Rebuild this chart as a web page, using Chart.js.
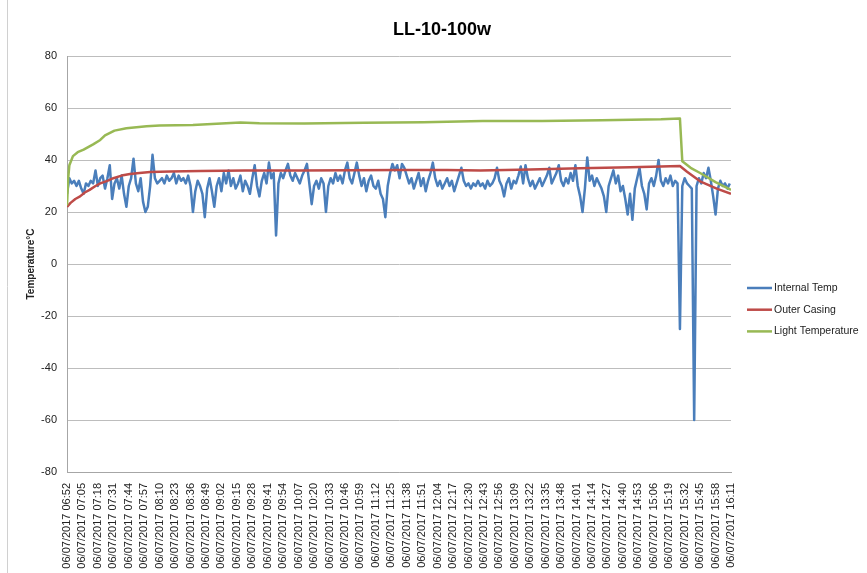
<!DOCTYPE html>
<html>
<head>
<meta charset="utf-8">
<script src="https://cdn.jsdelivr.net/npm/chart.js@4.4.1/dist/chart.umd.min.js"></script>
<style>
  html, body { margin: 0; padding: 0; background: #fff; }
  #wrap { position: relative; width: 867px; height: 573px; }
</style>
</head>
<body>
<div id="wrap"><canvas id="tempChart"></canvas></div>
<script>
const chartTitle = "LL-10-100w";
const yAxisTitle = "Temperature°C";

// one label every 13 minutes
const tickLabels = [
  "06/07/2017 06:52", "06/07/2017 07:05", "06/07/2017 07:18", "06/07/2017 07:31",
  "06/07/2017 07:44", "06/07/2017 07:57", "06/07/2017 08:10", "06/07/2017 08:23",
  "06/07/2017 08:36", "06/07/2017 08:49", "06/07/2017 09:02", "06/07/2017 09:15",
  "06/07/2017 09:28", "06/07/2017 09:41", "06/07/2017 09:54", "06/07/2017 10:07",
  "06/07/2017 10:20", "06/07/2017 10:33", "06/07/2017 10:46", "06/07/2017 10:59",
  "06/07/2017 11:12", "06/07/2017 11:25", "06/07/2017 11:38", "06/07/2017 11:51",
  "06/07/2017 12:04", "06/07/2017 12:17", "06/07/2017 12:30", "06/07/2017 12:43",
  "06/07/2017 12:56", "06/07/2017 13:09", "06/07/2017 13:22", "06/07/2017 13:35",
  "06/07/2017 13:48", "06/07/2017 14:01", "06/07/2017 14:14", "06/07/2017 14:27",
  "06/07/2017 14:40", "06/07/2017 14:53", "06/07/2017 15:06", "06/07/2017 15:19",
  "06/07/2017 15:32", "06/07/2017 15:45", "06/07/2017 15:58", "06/07/2017 16:11"
];
const tickStep = 13;

// Internal Temp, one reading every 2 minutes from 06:52
const internalStep = 2;
const internalTemp = [
  27, 33, 31, 32, 30, 32, 29, 27, 31, 30,
  32, 31, 36, 30, 33, 34, 29, 33, 38, 25,
  31, 33, 29, 34, 27, 22, 30, 33, 40.5, 31,
  28, 33, 24, 20, 22, 30, 42, 33, 31, 32,
  33, 31, 34, 32, 33, 35, 31, 34, 32, 33,
  31, 34, 30, 20, 28, 32, 30, 27, 18, 29,
  33, 28, 22, 30, 33, 28, 35, 31, 36, 30,
  33, 29, 31, 34, 28, 32, 30, 27, 33, 38,
  30, 26, 32, 35, 31, 39, 33, 35, 11, 31,
  35, 33, 36, 38.5, 34, 32, 35, 33, 31, 34,
  36, 38.5, 31, 23, 30, 32, 29, 33, 31, 20,
  30, 33, 31, 35, 32, 34, 31, 36, 39, 33,
  31, 35, 39, 34, 30, 33, 28, 32, 34, 30,
  29, 32, 27, 25, 18, 30, 35, 38.5, 36, 38,
  33, 38.5, 37, 34, 31, 33, 29, 32, 35, 30,
  33, 28, 32, 35, 39, 33, 30, 32, 29, 31,
  33, 30, 32, 28, 31, 34, 37, 32, 30, 31,
  29, 31, 30, 32, 30, 31, 29, 32, 30, 31,
  33, 37, 32, 30, 26, 31, 33, 29, 32, 31,
  34, 37.5, 31, 38, 33, 30, 32, 29, 31, 33,
  30, 32, 34, 37, 31, 33, 35, 38, 32, 30,
  33, 31, 35, 32, 38, 30, 26, 20, 29, 41,
  32, 34, 30, 33, 31, 29, 26, 20, 30, 33,
  36, 31, 34, 28, 30, 25, 19, 27, 17, 29,
  33, 37, 30, 27, 21, 31, 33, 30, 34, 40,
  32, 30, 33, 31, 34, 30, 32, 31, -25, 30,
  33, 31, 30, 29, -60, 30, 33, 31, 35, 33,
  37, 32, 26, 19, 29, 32, 30, 31, 29, 31
];

// Outer Casing, minutes after 06:52
const casingMinutes = [0, 3, 7, 11, 15, 19, 24, 28, 34, 39, 46, 53, 61, 70, 87, 112, 150, 196, 240, 280, 320, 348, 390, 432, 474, 500, 516, 522, 533, 547, 559];
const casingTemp = [22, 23.5, 25, 26, 27.5, 28.5, 30, 31, 32, 33, 34, 34.6, 35, 35.4, 35.6, 35.8, 36, 36, 36.1, 36.2, 36.2, 36, 36.3, 36.8, 37.2, 37.5, 37.7, 35.5, 31.8, 29, 27];

// Light Temperature, minutes after 06:52
const lightMinutes = [0, 1, 2, 5, 9, 14, 22, 28, 32, 40, 50, 67, 78, 106, 146, 162, 200, 250, 300, 350, 400, 450, 500, 516, 518, 525, 533, 546, 559];
const lightTemp = [22.5, 33, 38, 41.5, 43, 44, 46, 47.7, 49.5, 51.3, 52.2, 53, 53.3, 53.5, 54.4, 54.1, 54, 54.3, 54.5, 55, 55, 55.3, 55.7, 56, 39.5, 37, 35, 31.5, 28.5];

const BLUE = "#4a7ebb";
const RED = "#be4b48";
const GREEN = "#98b954";

Chart.defaults.font.family = "'Liberation Sans', Arial, sans-serif";
Chart.defaults.color = "#222";

const decor = {
  id: "decor",
  beforeDraw(chart) {
    const ctx = chart.ctx;
    ctx.save();
    ctx.strokeStyle = "#d0d0d0";
    ctx.lineWidth = 1;
    ctx.beginPath();
    ctx.moveTo(7.5, 0);
    ctx.lineTo(7.5, chart.height);
    ctx.stroke();
    ctx.restore();
  },
  afterDraw(chart) {
    const ctx = chart.ctx;
    ctx.save();
    ctx.fillStyle = "#000";
    ctx.font = "bold 18px 'Liberation Sans', Arial, sans-serif";
    ctx.textAlign = "center";
    ctx.textBaseline = "middle";
    ctx.fillText(chartTitle, 442, 30);

    ctx.font = "10.5px 'Liberation Sans', Arial, sans-serif";
    ctx.textAlign = "left";
    chart.data.datasets.forEach((ds, i) => {
      const y = 288 + i * 21.7;
      ctx.strokeStyle = ds.borderColor;
      ctx.lineWidth = 2.5;
      ctx.beginPath();
      ctx.moveTo(747, y);
      ctx.lineTo(772, y);
      ctx.stroke();
      ctx.fillStyle = "#222";
      ctx.fillText(ds.label, 774, y);
    });
    ctx.restore();
  }
};

new Chart(document.getElementById("tempChart"), {
  type: "line",
  data: {
    datasets: [
      {
        label: "Internal Temp",
        data: internalTemp.map((v, i) => ({ x: i * internalStep, y: v })),
        borderColor: BLUE,
        order: 2,
      },
      {
        label: "Outer Casing",
        data: casingMinutes.map((m, i) => ({ x: m, y: casingTemp[i] })),
        borderColor: RED,
        order: 1,
      },
      {
        label: "Light Temperature",
        data: lightMinutes.map((m, i) => ({ x: m, y: lightTemp[i] })),
        borderColor: GREEN,
        order: 0,
      },
    ],
  },
  options: {
    responsive: true,
    maintainAspectRatio: false,
    animation: false,
    layout: { padding: { left: 17, right: 136, top: 56, bottom: 0 } },
    elements: {
      point: { radius: 0 },
      line: { borderWidth: 2.5, tension: 0, borderJoinStyle: "round" },
    },
    plugins: {
      legend: { display: false },
      title: { display: false },
      tooltip: { enabled: false },
    },
    scales: {
      x: {
        type: "linear",
        min: 0,
        max: 559,
        afterFit: (s) => { s.height = 101; },
        grid: { display: false, drawTicks: false },
        border: { color: "#a6a6a6" },
        ticks: {
          stepSize: tickStep,
          maxTicksLimit: 100,
          autoSkip: false,
          minRotation: 90,
          maxRotation: 90,
          padding: 11,
          font: { size: 11 },
          callback: (v) => tickLabels[Math.round(v / tickStep)] ?? "",
        },
      },
      y: {
        min: -80,
        max: 80,
        afterFit: (s) => { s.width = 50; },
        grid: { color: "#bdbdbd", drawTicks: false },
        border: { color: "#a6a6a6" },
        ticks: { stepSize: 20, padding: 10, font: { size: 11 } },
        title: {
          display: true,
          text: yAxisTitle,
          font: { size: 10, weight: "bold" },
          padding: { top: 8, bottom: 0 },
        },
      },
    },
  },
  plugins: [decor],
});
</script>
</body>
</html>
